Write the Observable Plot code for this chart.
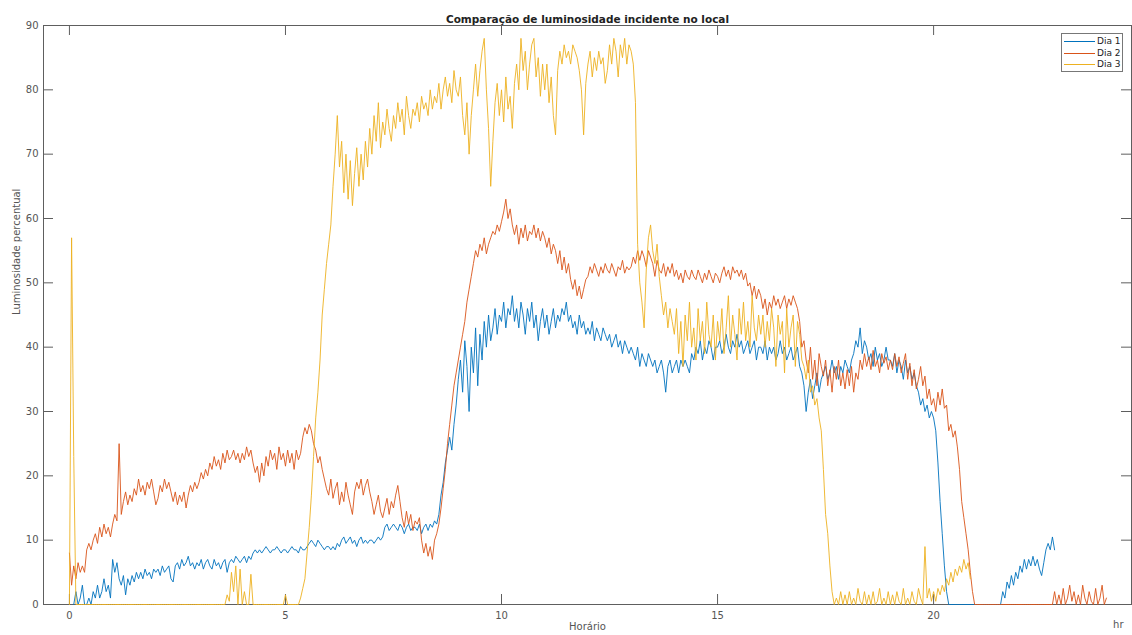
<!DOCTYPE html>
<html>
<head>
<meta charset="utf-8">
<script src="https://cdn.jsdelivr.net/npm/d3@7"></script>
<script src="https://cdn.jsdelivr.net/npm/@observablehq/plot@0.6"></script>
<style>
  html, body { margin: 0; padding: 0; background: #fff; }
  #wrap { position: relative; width: 1132px; height: 635px; overflow: hidden; }
  #legend { position: absolute; left: 1061px; top: 33px; width: 60px; height: 37px;
    border: 1px solid #777; background: #fff; font-family: "DejaVu Sans", sans-serif;
    font-size: 9px; color: #222; }
  #legend .row { position: absolute; left: 0; height: 12px; width: 60px; }
  #legend .sw { position: absolute; left: 2px; top: 6px; width: 31px; height: 0; border-top: 1px solid; }
  #legend .lb { position: absolute; left: 35px; top: 0; line-height: 12px; }
</style>
</head>
<body>
<div id="wrap"></div>
<script>
// ---- data ----
const chartTitle = "Comparação de luminosidade incidente no local";
const xLabel = "Horário";
const yLabel = "Luminosidade percentual";
const xUnit = "hr";
const seriesNames = ["Dia 1", "Dia 2", "Dia 3"];
const seriesColors = ["#0072BD", "#D95319", "#EDB120"];
const xTicks = [0, 5, 10, 15, 20];
const yTicks = [0, 10, 20, 30, 40, 50, 60, 70, 80, 90];
const sampleStep = 0.05; // hours between samples
const dia1Start = 0.1;
const dia2Start = 0;
const dia3Start = 0;

const dia1Values = [
  0,2,0,1,3,0,0,1,0,2,1,3,1,2,4,2,3,1,
  7,5,6.5,4,3,4.5,1.5,4,3,4.5,3.5,5,4,5,4,5.5,4.5,5,4,5.5,
  5,5.5,4.5,6,5,5.5,6,4,3.5,6,6.5,5.5,7,6,6.5,7.5,6,6.5,5.5,6.5,
  6,7,5.5,6.5,7,6,5.5,7,6,6.5,5.5,6.5,7,5,6.5,7,6.5,7.5,7,6.5,
  7,7.5,6.5,7.5,7,8,8.5,8,8.5,8,8.5,9,8.5,8,8.5,8.5,9,8.5,8,8.5,
  8.5,8,8.5,9,8.5,8.5,8,9,8.5,8.5,9,9.5,10,9.5,9,10,9.5,9,8.5,9,
  9,8.5,9,8.5,9.5,9,10,10.5,9.5,10,10.5,9.5,10,9,10,10.5,9.5,10,9.5,10,
  10,9.5,10,10.5,10,10.5,12,12.5,11.5,12,12.5,12,11.5,12.5,12,11,12,12.5,11.5,12,
  12,11.5,12.5,11,12,12.5,11.5,12.5,12,13,12.5,14,17,19,22,24,26,24,28,31,
  35,38,33,41,37,30,40,36,43,34,42,38,44,40,45,41,43,46,42,45,
  44,47,43,46,45,48,44,46,43,47,45,42,46,44,47,43,45,41,44,46,
  43,45,42,44,46,43,45,44,46,45,47,44,45,43,44,42,45,43,44,42,
  43,42,44,41,43,42,41,43,42,41,42,40,41,42,40,41,39,41,40,39,
  40,39,38,40,37,39,38,37,39,38,37,38,36,37,38,36,33,37,38,36,
  37,38,36,38,37,38,37,36,39,38,40,39,41,38,40,39,41,40,38,40,
  40,41,39,40,42,40,39,41,40,42,40,41,39,40,41,39,40,41,38,40,
  40,39,41,38,40,39,40,38,39,41,39,40,38,39,40,38,39,40,37,36,
  34,30,33,35,32,34,36,33,35,36,37,35,36,38,36,37,35,37,36,38,
  37,36,38,39,41,40,43,39,41,40,38,39,37,40,38,39,37,38,40,38,
  38,37,39,36,38,37,35,38,36,37,35,36,34,33,31,32,30,31,29,30,
  29,27,22,16,11,6,2,0,0,0,0,0,0,0,0,0,0,0,0,0,
  0,0,0,0,0,0,0,0,0,0,0,0,2,1,3.5,2.5,4.5,3,5,4,
  6,5,7,5.5,7,6,7.5,6,7,5.5,4.5,6.5,8.5,9.5,8.5,10.5,8.5
];

const dia2Values = [
  8,3,6,4,6.5,5,6,5,8.5,9.5,8.5,10,11,9.5,12,10.5,12.5,11,12,10.5,
  12.5,14,13,25,14,16,17.5,15.5,17,16,18,17,19.5,17.5,18.5,17,19,18,19.5,17.5,
  15.5,16.5,18.5,17.5,19.5,18,19,17.5,16,17.5,15.5,17,16,17.5,15,17,18.5,17.5,19,18,
  19,20.5,19.5,21,20,22,21,23,21.5,22.5,21,23.5,22,24,22.5,23,24,22.5,23.5,22,
  23.5,22.5,24.5,23,24,22,20.5,21.5,19,22,20,23,21.5,24,22.5,23.5,21,24.5,22.5,23.5,
  21.5,24,22,23.5,21,24,22.5,23.5,26,27.5,26.5,28,27,25,24,22,23,21,19.5,18,
  17,19.5,16.5,18,19,15.5,17.5,16,19,17,15.5,14,17.5,19,18,19.5,17,18.5,19.5,17.5,
  16,14,15.5,17,14.5,13.5,15,16.5,14,16,15,17,18.5,16,13.5,12,14.5,12.5,14,11.5,
  13,12.5,13.5,10,8,9.5,7.5,9,7,10,11,12.5,15,18,21,25,28,31,34,36,
  38,40,42,44,47,49,51,53,55,54,56,55,57,54.5,56,57,58,57.5,59,58,
  59.5,61,63,60,61.5,59,57.5,59,56,58.5,57,59,56.5,58,57.5,59,57,58.5,56.5,58,
  57,55.5,57,54.5,56,55,53,55,52,54,51.5,53,50.5,49,50.5,48,49.5,47.5,49,50.5,
  51,52.5,51.5,53,52,51,52.5,51.5,53,52,51.5,53,52,51,52.5,52,53.5,51.5,52.5,52,
  52.5,54,53,55,53.5,55,54,52.5,55,54,53,51,53.5,52,51.5,53,51,52.5,51.5,53,
  51,52,50.5,51.5,50,52,51,50.5,52,51,50.5,52,51,50,51.5,50.5,52,51,50,51.5,
  51,50,51.5,52.5,51,52,50.5,52.5,51.5,52,51,52,50.5,51.5,49.5,50,48,49.5,47.5,49,
  48,46,47.5,45,47,46,48,46.5,47.5,46,47,48,46,47.5,46.5,48,47,46,44,40,
  41,38,36,40,35,38,34,39,37,35.5,38,34,36.5,33,37,35,38,34,36,33.5,
  36.5,34,37,33,36,35,38,36.5,39,37,38.5,36.5,39.5,37,38,36,39,37.5,38.5,36.5,
  38,36.5,39,37,38.5,36,37.5,39,35,37.5,34,36.5,33.5,35,37,34,35.5,32,33.5,31,
  32,30,33,31,33.5,30.5,31,27,28,26,27,24.5,21,16,13.5,11,8.5,5,2,0,
  0,0,0,0,0,0,0,0,0,0,0,0,0,0,0,0,0,0,0,0,
  0,0,0,0,0,0,0,0,0,0,0,0,0,0,0,0,2,0,1.5,0,
  2.5,0,1,3,0.5,2,0,1.5,0,3,1,0,2,0.5,0,2.5,0,1,3,0,
  1
];

const dia3Values = [
  0,57,23,0,0,0,0,0,0,0,0,0,0,0,0,0,0,0,0,0,
  0,0,0,0,0,0,0,0,0,0,0,0,0,0,0,0,0,0,0,0,
  0,0,0,0,0,0,0,0,0,0,0,0,0,0,0,0,0,0,0,0,
  0,0,0,0,0,0,0,0,0,0,0,0,0,1.5,0.5,5,2,6,0,5.5,
  0,2,0,0,4.7,0,0,0,0,0,0,0,0,0,0,0,0,0,0,0,
  1.5,0,0,0,0,0,0,1,2.5,4,8,12,17,23,29,33,38,45,49,53,
  56,59,65,70,76,68,72,64,70,63,69,62,67,71,65,70,66,72,68,74,
  70,76,72,78,71,75,73,77,74,72,76,74,78,75,77,73,79,76,74,77,
  76,78,75,79,77,78,76,80,77,79,78,81,77,80,82,79,81,78,83,80,
  79,82,76,73,78,70,76,80,84,79,83,86,88,80,74,65,72,78,81,76,
  80,75,82,77,79,74,81,84,80,88,83,86,80,84,87,88,82,85,79,84,
  80,84,78,82,76,73,83,86,84,87,85,86,84,87,86,85,83,80,73,81,
  84,86,82,85,83,86,84,85,81,83,87,84,88,86,82,87,85,88,84,87,
  86,84,78,56,50,47,43,52,57,59,55,53,56,51,48,45,47,43,46,44,
  42,46,39,44,37,45,41,47,40,43,38,46,41,44,39,47,42,40,45,38,
  44,41,46,39,43,48,40,45,42,38,46,42,47,41,44,40,48,43,41,45,
  42,45,40,44,41,46,43,37,45,42,44,36,46,40,43,45,37,44,42,38,
  37,35,38,33,34,31,32,29,27,21,14,11,6,2,0,1,0,2,0,1.5,
  0,2,0,1,0,2.5,0.5,0,2,0,1.5,0,2,0,0.5,2.5,0,1,0,2,
  0,1.5,0,2,0.5,0,2.5,0,1,0,2,0.5,0,2.5,1,0,9,1,2.5,0.5,
  2,0.5,2.5,1.5,3,2,4,3,5,3.5,5.5,4.5,6,5,7,5.5,6.5,4
];

// ---- build tables ----
function toRows(values, start) {
  return values.map((v, i) => ({ t: Math.round((start + i * sampleStep) * 1000) / 1000, v }));
}
const dia1 = toRows(dia1Values, dia1Start);
const dia2 = toRows(dia2Values, dia2Start);
const dia3 = toRows(dia3Values, dia3Start);

const W = 1132, H = 635;
const mL = 43, mR = 1, mT = 25, mB = 31;
const plotW = W - mL - mR, plotH = H - mT - mB;
const tickLen = 10;
const axisColor = "#5e5e5e";
const labelColor = "#555";

const chart = Plot.plot({
  width: W, height: H,
  marginLeft: mL, marginRight: mR, marginTop: mT, marginBottom: mB,
  x: { domain: [-0.6, 24.58] },
  y: { domain: [0, 90] },
  style: { fontFamily: "DejaVu Sans, sans-serif", fontSize: "10px", background: "#fff", overflow: "visible" },
  marks: [
    // frame and inward ticks (bottom, top, left, right), drawn under the data
    Plot.frame({ stroke: axisColor }),
    Plot.ruleX(xTicks, { x: d => d, stroke: axisColor, insetTop: plotH - tickLen }),
    Plot.ruleX(xTicks, { x: d => d, stroke: axisColor, insetBottom: plotH - tickLen }),
    Plot.ruleY(yTicks, { y: d => d, stroke: axisColor, insetRight: plotW - tickLen }),
    Plot.ruleY(yTicks, { y: d => d, stroke: axisColor, insetLeft: plotW - tickLen }),
    Plot.line(dia1, { x: "t", y: "v", stroke: seriesColors[0], strokeWidth: 0.9 }),
    Plot.line(dia2, { x: "t", y: "v", stroke: seriesColors[1], strokeWidth: 0.9 }),
    Plot.line(dia3, { x: "t", y: "v", stroke: seriesColors[2], strokeWidth: 0.9 }),
    Plot.axisX(xTicks, { anchor: "bottom", tickSize: 0, tickPadding: 7, label: null, fill: labelColor }),
    Plot.axisY(yTicks, { anchor: "left", tickSize: 0, tickPadding: 5, label: null, fill: labelColor }),
    Plot.text([chartTitle], { text: d => d, frameAnchor: "top", dy: -10, fontWeight: "bold", fontSize: 10.5, fill: "#222" }),
    Plot.text([xLabel], { text: d => d, frameAnchor: "bottom", dy: 25, fill: labelColor }),
    Plot.text([xUnit], { text: d => d, frameAnchor: "bottom-right", dx: -8, dy: 23, fill: labelColor }),
    Plot.text([yLabel], { text: d => d, frameAnchor: "left", rotate: -90, dx: -27, fill: labelColor })
  ]
});

const wrap = document.getElementById("wrap");
wrap.appendChild(chart);

// legend overlay
const legend = document.createElement("div");
legend.id = "legend";
seriesNames.forEach((name, i) => {
  const row = document.createElement("div");
  row.className = "row";
  row.style.top = (1 + i * 11.5) + "px";
  const sw = document.createElement("div");
  sw.className = "sw";
  sw.style.borderTopColor = seriesColors[i];
  const lb = document.createElement("div");
  lb.className = "lb";
  lb.textContent = name;
  row.appendChild(sw);
  row.appendChild(lb);
  legend.appendChild(row);
});
wrap.appendChild(legend);
</script>
</body>
</html>
